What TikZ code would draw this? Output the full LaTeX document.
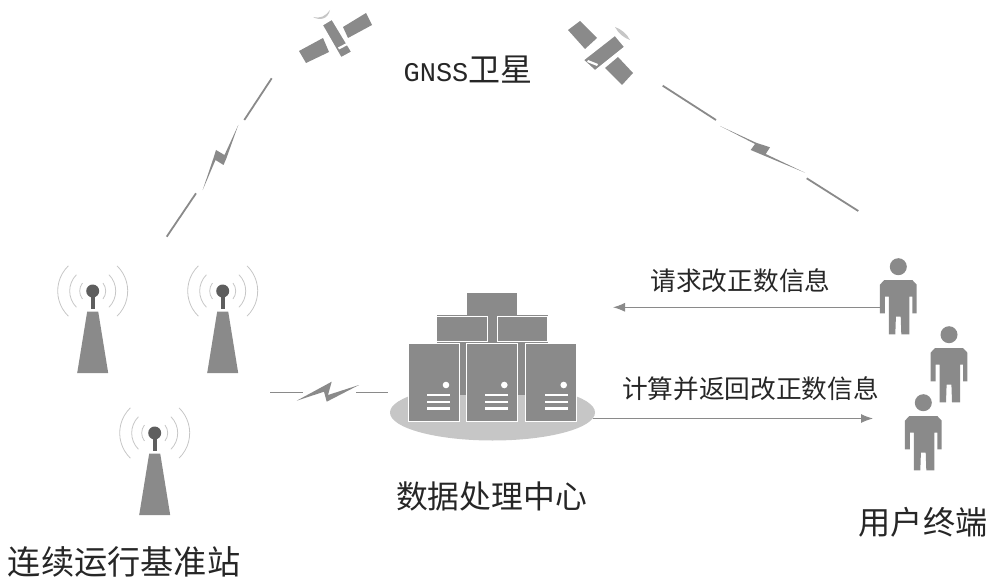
\documentclass[tikz,border=0pt]{standalone}
\usepackage{fontspec}
\newfontfamily\cjk{Noto Sans CJK SC}
\newfontfamily\latinmono{Liberation Mono}
\usetikzlibrary{arrows.meta,shapes.geometric}
\definecolor{stone}{HTML}{8A8A8A}
\definecolor{dark}{HTML}{5E5E5E}
\definecolor{pale}{HTML}{C6C6C6}
\tikzset{
  smalltxt/.style={inner sep=0pt,text=black!85,font=\cjk\fontsize{25.7}{27}\selectfont},
  bigtxt/.style={inner sep=0pt,text=black!85,font=\cjk\fontsize{31.8}{33}\selectfont},
  wave/.style={draw=pale,line width=.8pt},
  segm/.style={draw=stone,line width=1.8pt},
  bolt/.style={fill=stone},
  flow/.style={draw=stone,line width=1pt,-{Latex[length=12pt,width=9pt]}},
  box/.style={fill=stone,draw=white,line width=1pt},
  tower/.pic={
    \foreach \r/\a in {13/38,23/45,35/46} {
      \draw[wave] (180-\a:\r) arc[start angle=180-\a,end angle=180+\a,radius=\r];
      \draw[wave] (-\a:\r) arc[start angle=-\a,end angle=\a,radius=\r];
    }
    \fill[dark] (0,0) circle[radius=6.5];
    \fill[dark] (-1.8,0) rectangle (1.8,18);
    \fill[stone] (-5.5,20.5) -- (5.5,20.5) -- (15.5,82) -- (-15.5,82) -- cycle;
  },
  person/.pic={
    \fill[stone] (0,0) circle[radius=8.5];
    \fill[stone] (-14,13.3) -- (14,13.3) -- (18.4,18) -- (18.4,46.6) -- (14,46.6) -- (14,30)
      -- (11,30) -- (11,67.6) -- (3,67.6) -- (2.4,50) -- (-2.4,50) -- (-3,67.6) -- (-9.5,67.6)
      -- (-9.5,30) -- (-13.5,30) -- (-13.5,46.6) -- (-18.4,46.6) -- (-18.4,18) -- cycle;
    \coordinate (-hand) at (-18.4,40.6);
  },
  server/.pic={
    \draw[box] (-51,-78.5) rectangle (0,0);
    \fill[white] (-13,-36.7) circle[radius=3.3];
    \foreach \y in {-26.7,-20,-13.4}
      \fill[white] (-32,\y-1.2) rectangle (-9,\y+1.2);
  }
}
\begin{document}
\begin{tikzpicture}[x=1pt,y=-1pt]
  \useasboundingbox (0,0) rectangle (1000,588);
  % satellites
  \fill[pale] (313,17) .. controls (320,19) and (326,16) .. (330,10) .. controls (328,19) and (320,21) .. (313,17) -- cycle;
  \fill[stone] (299,51) -- (323,38) -- (329,52) -- (306,63) -- cycle;
  \fill[stone] (343,27) -- (366,13) -- (372,25) -- (348,38) -- cycle;
  \draw[box,line width=1.5pt] (322,25) -- (332,19) -- (352,52) -- (341,58) -- cycle;
  \fill[white] (338,47.5) -- (347.5,42.5) -- (348.5,44.5) -- (339,49.5) -- cycle;
  \fill[pale] (615,27) .. controls (621,29) and (627,34) .. (630,40) .. controls (624,38) and (618,33) .. (615,27) -- cycle;
  \fill[stone] (568,30) -- (580,21) -- (597,38) -- (585,49) -- cycle;
  \fill[stone] (605,68) -- (618,57) -- (633,73) -- (622,85) -- cycle;
  \draw[box,line width=1.5pt] (583,60) -- (615,35) -- (625,47) -- (595,71) -- cycle;
  \fill[white] (588,60) -- (598,64) -- (597,66) -- (587,62) -- cycle;
  \node[inner sep=0pt,text=black!85] (Gnss) at (468,70) {\latinmono\fontsize{27}{29}\selectfont GNSS\cjk\fontsize{32}{34}\selectfont 卫星};
  % links to the satellites
  \coordinate (L1a) at (166.7,236.7);
  \coordinate (L1b) at (196,193.3);
  \coordinate (L1c) at (244.3,120);
  \coordinate (L1d) at (271.7,78.3);
  \draw[segm] (L1a) -- (L1b);
  \draw[segm] (L1c) -- (L1d);
  \fill[bolt] (202.7,190) -- (213.5,158) -- (216,150) -- (224.5,155) -- (238.3,125) -- (226.5,158) -- (223.5,165) -- (215.5,160) -- cycle;
  \coordinate (L2a) at (662.7,85.7);
  \coordinate (L2b) at (716,120);
  \coordinate (L2c) at (806.7,178.3);
  \coordinate (L2d) at (858.3,211);
  \draw[segm] (L2a) -- (L2b);
  \draw[segm] (L2c) -- (L2d);
  \fill[bolt] (720,126) -- (756,142.7) -- (770,147.3) -- (765.7,154) -- (805,172.7) -- (765,156) -- (750.7,150) -- (755,144) -- cycle;
  % stations
  \pic (T1) at (92.7,291) {tower};
  \pic (T2) at (222.7,291) {tower};
  \pic (T3) at (154.7,433) {tower};
  \node[bigtxt,font=\cjk\fontsize{33.2}{35}\selectfont] (Stations) at (124,562) {连续运行基准站};
  % link to the centre
  \coordinate (L3a) at (270,392.7);
  \coordinate (L3b) at (303,392.7);
  \coordinate (L3c) at (356,392.7);
  \coordinate (L3d) at (388,392.7);
  \draw[segm,line width=1.2pt] (L3a) -- (L3b);
  \draw[segm,line width=1.2pt] (L3c) -- (L3d);
  \fill[bolt] (296.7,400.7) -- (331.7,381.7) -- (328,395) -- (359,385) -- (326.7,401.7) -- (324,391.7) -- cycle;
  % centre
  \node[ellipse,fill=pale,minimum width=205pt,minimum height=56pt,inner sep=0pt] (Disk) at (492.5,412.5) {};
  \fill[stone] (437,315) rectangle (548,395);
  \fill[stone] (467.3,293.3) rectangle (517.3,320);
  \draw[box] (436.7,316) rectangle (487.7,341.7);
  \draw[box] (497,316) rectangle (547.7,341.7);
  \pic (S1) at (459,421.7) {server};
  \pic (S2) at (517.3,421.7) {server};
  \pic (S3) at (576.7,421.7) {server};
  \node[bigtxt] (Centre) at (491.5,496) {数据处理中心};
  % users
  \pic (P1) at (898.3,266.7) {person};
  \pic (P2) at (949,334.7) {person};
  \pic (P3) at (923.3,402.7) {person};
  \node[bigtxt,font=\cjk\fontsize{32.2}{34}\selectfont] (Users) at (923,522) {用户终端};
  % flows
  \coordinate (ReqEnd) at (613,307.3);
  \coordinate (RetStart) at (593,418.5);
  \coordinate (RetEnd) at (873,418.5);
  \draw[flow] (P1-hand) -- (ReqEnd);
  \draw[flow] (RetStart) -- (RetEnd);
  \node[smalltxt] (Req) at (740.5,281) {请求改正数信息};
  \node[smalltxt] (Ret) at (750.5,389) {计算并返回改正数信息};
\end{tikzpicture}
\end{document}
